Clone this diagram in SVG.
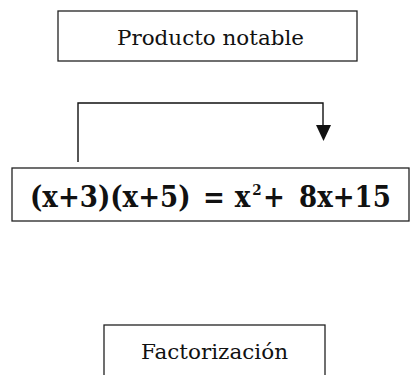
<svg xmlns="http://www.w3.org/2000/svg" width="412" height="375" viewBox="0 0 412 375">
<style>
.box{fill:#fff;stroke:#222;stroke-width:1.3}
.lbl{font-family:"DejaVu Serif","Liberation Serif",serif;font-size:21px;fill:#111}
.eq{font-family:"DejaVu Serif","Liberation Serif",serif;font-size:29px;font-weight:bold;fill:#111}
.sup{font-size:15px}
.con{fill:none;stroke:#111;stroke-width:1.4}
</style>
<rect width="412" height="375" fill="#fff"/>
<g id="node-producto">
<rect class="box" x="58" y="11" width="299" height="50"/>
<text class="lbl" x="117" y="45" textLength="187" lengthAdjust="spacingAndGlyphs">Producto notable</text>
</g>
<g id="node-ecuacion">
<rect class="box" x="12" y="168" width="397" height="53"/>
<text class="eq" transform="translate(30,207) scale(0.9,1)"><tspan x="0" y="0">(x+3)(x+5)</tspan><tspan x="192.2" y="0">=</tspan><tspan x="227.5" y="0">x</tspan><tspan class="sup" x="247" y="-12">2</tspan><tspan x="258.9" y="0">+</tspan><tspan x="298.9" y="0">8x+15</tspan></text>
</g>
<g id="node-factorizacion">
<rect class="box" x="104" y="325" width="221" height="60"/>
<text class="lbl" x="141" y="359" textLength="147" lengthAdjust="spacingAndGlyphs">Factorización</text>
</g>
<g id="connectors">
<path class="con" d="M78 162 V103 H323 V127"/>
<polygon points="316,125 331,125 323.5,141" fill="#111"/>
</g>
</svg>
